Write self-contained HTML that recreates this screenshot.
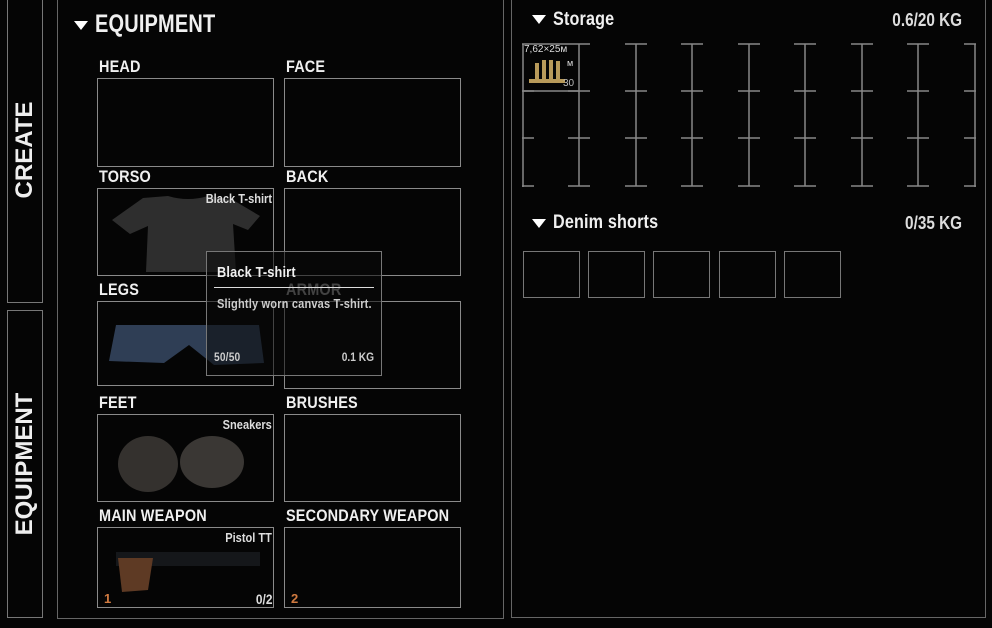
<!DOCTYPE html>
<html><head><meta charset="utf-8"><style>
*{margin:0;padding:0;box-sizing:border-box}
body{width:992px;height:628px;background:#050505;position:relative;overflow:hidden;font-family:"Liberation Sans Narrow","Liberation Sans",sans-serif;font-weight:bold;color:#eee}
.a{position:absolute}
.box{position:absolute;border:1px solid #8a8a8a}
.lbl{position:absolute;font-size:17px;color:#f0f0f0;letter-spacing:0.2px;transform:scaleX(0.85);transform-origin:left}
.nm{position:absolute;font-size:13px;color:#ddd;transform:scaleX(0.85);transform-origin:right;text-align:right}
.tri{position:absolute;width:0;height:0;border-left:7px solid transparent;border-right:7px solid transparent;border-top:9px solid #fff}
.vt{position:absolute;transform:rotate(-90deg);transform-origin:center;font-size:24px;color:#eee;white-space:nowrap;text-align:center}
.cell{position:absolute;border:1px solid #777;width:57px;height:47px}
</style></head><body>
<div class="box" style="left:7px;top:-2px;width:36px;height:305px;border-color:#777"></div>
<div class="box" style="left:7px;top:310px;width:36px;height:308px;border-color:#777"></div>
<div class="vt" style="left:-50px;top:136px;width:150px;height:28px">CREATE</div>
<div class="vt" style="left:-55px;top:450px;width:160px;height:28px">EQUIPMENT</div>
<div class="box" style="left:57px;top:-2px;width:447px;height:621px;border-color:#666"></div>
<div class="box" style="left:511px;top:-2px;width:475px;height:620px;border-color:#666"></div>
<div class="tri" style="left:74px;top:21px"></div>
<div class="lbl" style="left:95px;top:10px;font-size:25px;transform:scaleX(0.8)">EQUIPMENT</div>

<div class="lbl" style="left:99px;top:57px">HEAD</div>
<div class="lbl" style="left:286px;top:57px">FACE</div>
<div class="box" style="left:97px;top:78px;width:177px;height:89px"></div>
<div class="box" style="left:284px;top:78px;width:177px;height:89px"></div>

<div class="lbl" style="left:99px;top:167px">TORSO</div>
<div class="lbl" style="left:286px;top:167px">BACK</div>
<div class="box" style="left:97px;top:188px;width:177px;height:88px"></div>
<div class="box" style="left:284px;top:188px;width:177px;height:88px"></div>
<svg class="a" style="left:108px;top:196px" width="158" height="78"><path d="M35 2 L60 0 Q80 6 100 0 L125 4 L152 20 L140 34 L125 28 L128 76 L38 76 L40 30 L22 38 L4 24 Z" fill="#2e2e2e"/></svg>
<div class="nm" style="right:720px;top:191px">Black T-shirt</div>

<div class="lbl" style="left:99px;top:280px">LEGS</div>
<div class="lbl" style="left:286px;top:280px;color:#888">ARMOR</div>
<div class="box" style="left:97px;top:301px;width:177px;height:85px"></div>
<div class="box" style="left:284px;top:301px;width:177px;height:88px"></div>
<svg class="a" style="left:104px;top:323px" width="165" height="45"><path d="M12 2 L155 2 L160 40 L110 42 L85 22 L60 40 L5 38 Z" fill="#2f3e55"/></svg>

<div class="lbl" style="left:99px;top:393px">FEET</div>
<div class="lbl" style="left:286px;top:393px">BRUSHES</div>
<div class="box" style="left:97px;top:414px;width:177px;height:88px"></div>
<div class="box" style="left:284px;top:414px;width:177px;height:88px"></div>
<svg class="a" style="left:110px;top:428px" width="160" height="70"><ellipse cx="38" cy="36" rx="30" ry="28" fill="#34312e"/><ellipse cx="102" cy="34" rx="32" ry="26" fill="#3a3734"/></svg>
<div class="nm" style="right:720px;top:417px">Sneakers</div>

<div class="lbl" style="left:99px;top:506px">MAIN WEAPON</div>
<div class="lbl" style="left:286px;top:506px">SECONDARY WEAPON</div>
<div class="box" style="left:97px;top:527px;width:177px;height:81px"></div>
<div class="box" style="left:284px;top:527px;width:177px;height:81px"></div>
<svg class="a" style="left:108px;top:548px" width="152" height="50"><rect x="8" y="4" width="145" height="14" fill="#15171a"/><path d="M10 10 L45 10 L40 42 L14 44 Z" fill="#5e3a24"/></svg>
<div class="nm" style="right:720px;top:530px">Pistol TT</div>
<div class="a" style="left:104px;top:591px;font-size:13px;color:#d07a40">1</div>
<div class="a" style="left:291px;top:591px;font-size:13px;color:#d07a40">2</div>
<div class="nm" style="right:720px;top:591px;font-size:14px">0/2</div>

<div class="box" style="left:206px;top:251px;width:176px;height:125px;background:rgba(10,10,10,0.55);border-color:#777"></div>
<div class="lbl" style="left:217px;top:264px;font-size:15px">Black T-shirt</div>
<div class="a" style="left:214px;top:287px;width:160px;height:1px;background:#ddd"></div>
<div class="lbl" style="left:217px;top:296px;font-size:13px;color:#ccc">Slightly worn canvas T-shirt.</div>
<div class="lbl" style="left:214px;top:350px;font-size:12px;color:#ccc">50/50</div>
<div class="nm" style="right:618px;top:350px;font-size:12px;color:#ccc">0.1 KG</div>

<div class="tri" style="left:532px;top:15px"></div>
<div class="lbl" style="left:553px;top:9px;font-size:19px">Storage</div>
<div class="nm" style="right:30px;top:10px;font-size:18px">0.6/20 KG</div>
<svg class="a" style="left:522px;top:43px" width="455" height="145" stroke="#888" stroke-width="1.5" fill="none">
<line x1="1" y1="1" x2="1" y2="144"/><line x1="453" y1="1" x2="453" y2="144"/>
<line x1="57" y1="1" x2="57" y2="143"/><line x1="114" y1="1" x2="114" y2="143"/><line x1="170" y1="1" x2="170" y2="143"/><line x1="227" y1="1" x2="227" y2="143"/><line x1="283" y1="1" x2="283" y2="143"/><line x1="340" y1="1" x2="340" y2="143"/><line x1="396" y1="1" x2="396" y2="143"/>
<path d="M0 1H57M46 1H68M103 1H125M159 1H181M216 1H238M272 1H294M329 1H351M385 1H407M442 1H454
M0 48H12M46 48H68M103 48H125M159 48H181M216 48H238M272 48H294M329 48H351M385 48H407M442 48H454
M0 95H12M46 95H68M103 95H125M159 95H181M216 95H238M272 95H294M329 95H351M385 95H407M442 95H454
M0 143H12M46 143H68M103 143H125M159 143H181M216 143H238M272 143H294M329 143H351M385 143H407M442 143H454"/>
<line x1="1" y1="48" x2="57" y2="48"/>
</svg>
<svg class="a" style="left:527px;top:55px" width="45" height="32"><g fill="#b89a5a"><rect x="8" y="8" width="4" height="20"/><rect x="15" y="5" width="4" height="22"/><rect x="22" y="5" width="4" height="22"/><rect x="29" y="6" width="4" height="20"/><rect x="2" y="24" width="36" height="4"/></g></svg>
<div class="a" style="left:524px;top:44px;font-size:10px;font-weight:normal;color:#ddd;font-family:'Liberation Sans',sans-serif">7,62×25м</div>
<div class="a" style="left:567px;top:58px;font-size:9px;font-weight:normal;color:#ddd;font-family:'Liberation Sans',sans-serif">м</div>
<div class="a" style="left:563px;top:78px;font-size:10px;font-weight:normal;color:#bbb;font-family:'Liberation Sans',sans-serif">30</div>

<div class="tri" style="left:532px;top:219px"></div>
<div class="lbl" style="left:553px;top:212px;font-size:19px">Denim shorts</div>
<div class="nm" style="right:30px;top:213px;font-size:18px">0/35 KG</div>
<div class="cell" style="left:523px;top:251px"></div>
<div class="cell" style="left:588px;top:251px"></div>
<div class="cell" style="left:653px;top:251px"></div>
<div class="cell" style="left:719px;top:251px"></div>
<div class="cell" style="left:784px;top:251px"></div>
</body></html>
